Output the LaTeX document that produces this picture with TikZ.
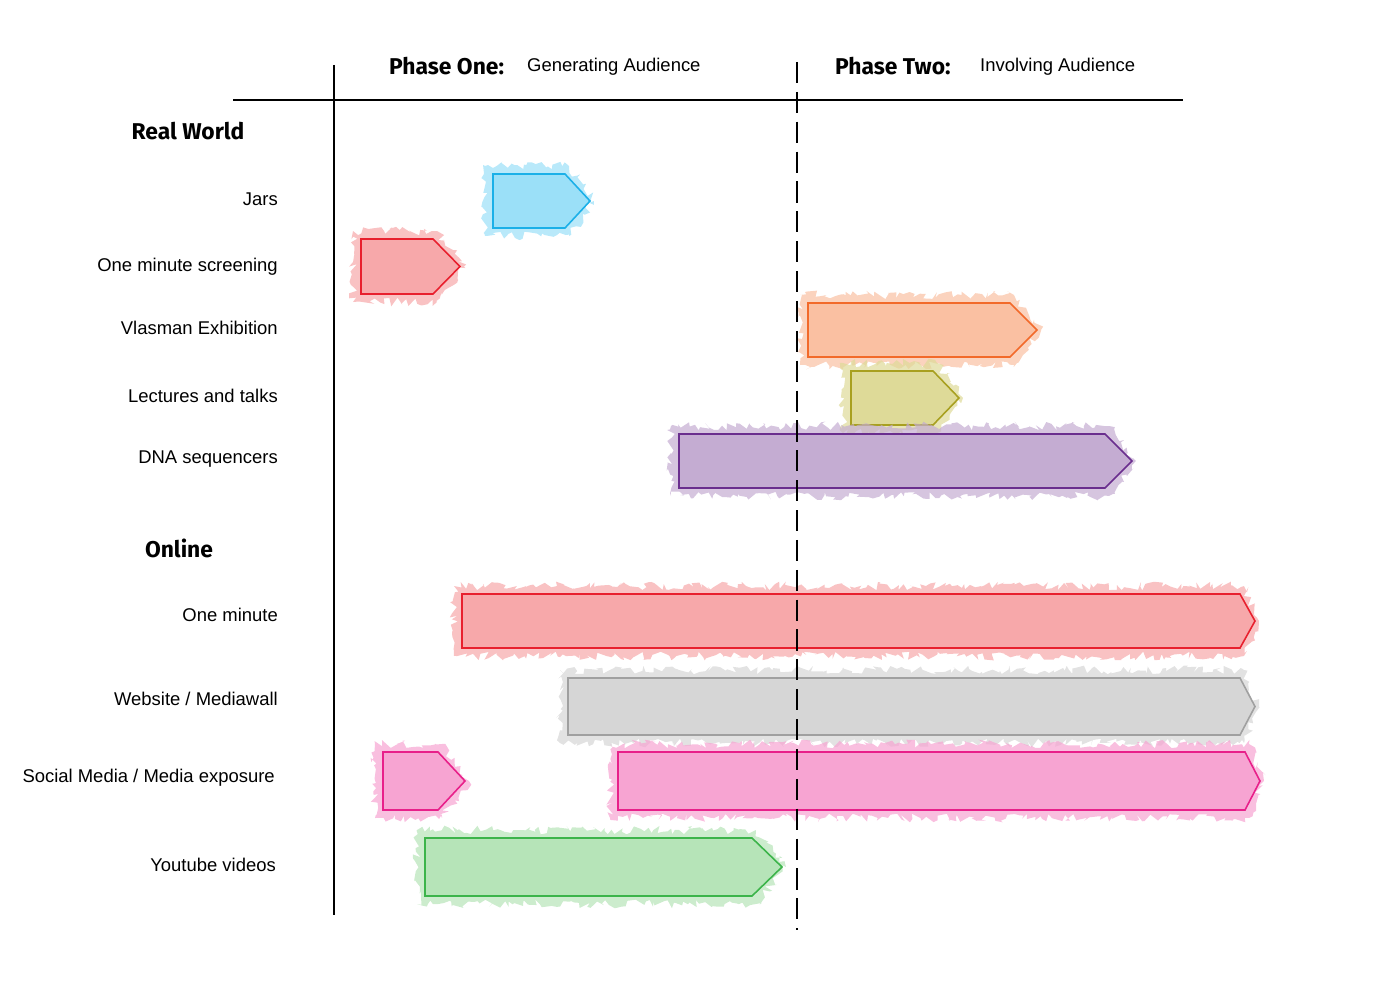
\documentclass[tikz,border=0pt]{standalone}
\usepackage{fontspec}
\setmainfont{Liberation Sans}
\newfontfamily\hdr{Fira Sans}
\usetikzlibrary{decorations.pathmorphing}
\pgfmathsetseed{7}
\definecolor{cblue}{HTML}{9BE0F8}\definecolor{cblueb}{HTML}{1BB0E8}
\definecolor{cred}{HTML}{F7A8AA}\definecolor{credb}{HTML}{E8202E}
\definecolor{corg}{HTML}{FAC0A2}\definecolor{corgb}{HTML}{F26A2A}
\definecolor{coli}{HTML}{DEDA98}\definecolor{colib}{HTML}{A8A020}
\definecolor{cpur}{HTML}{C4ACD2}\definecolor{cpurb}{HTML}{6A2E8E}
\definecolor{cgry}{HTML}{D6D6D6}\definecolor{cgryb}{HTML}{A0A0A0}
\definecolor{cpnk}{HTML}{F7A4D2}\definecolor{cpnkb}{HTML}{E8208A}
\definecolor{cgrn}{HTML}{B6E4B8}\definecolor{cgrnb}{HTML}{3CB44A}
\tikzset{
 lbl/.style={anchor=east,font=\fontsize{10.5}{12}\selectfont},
 hd/.style={font=\hdr\bfseries\fontsize{13}{15}\selectfont},
 fuzz/.style={fill=#1,fill opacity=0.7,draw=none,decorate,decoration={random steps,segment length=2pt,amplitude=2.5pt}},
}
\newcommand{\garrow}[8]{% name, x1, x2, x3, y1, y2, fill, border
 \fill[fuzz=#7] (#2-8,#5-8) -- (#3+4,#5-8) -- (#4+4,#5/2+#6/2) -- (#3+4,#6+8) -- (#2-8,#6+8) -- cycle;
 \draw[#8,fill=#7,line width=0.9pt] (#2,#5) -- (#3,#5) -- (#4,#5/2+#6/2) -- (#3,#6) -- (#2,#6) -- cycle;
 \coordinate (#1) at (#2,#5/2+#6/2);
}
\begin{document}
\begin{tikzpicture}[x=0.02cm,y=-0.02cm]
\useasboundingbox (0,0) rectangle (1400,990);
% arrows
\garrow{jars}{493}{565}{590}{174}{228}{cblue}{cblueb}
\garrow{oms}{361}{433}{460}{239}{294}{cred}{credb}
\garrow{vla}{808}{1010}{1037}{303}{357}{corg}{corgb}
\garrow{lec}{851}{933}{959}{371}{425}{coli}{colib}
\garrow{dna}{679}{1105}{1132}{434}{488}{cpur}{cpurb}
\garrow{om}{462}{1240}{1255}{594}{648}{cred}{credb}
\garrow{web}{568}{1240}{1255}{678}{735}{cgry}{cgryb}
\garrow{soc1}{383}{438}{465}{752}{810}{cpnk}{cpnkb}
\garrow{soc2}{618}{1245}{1260}{752}{810}{cpnk}{cpnkb}
\garrow{yt}{425}{752}{782}{838}{896}{cgrn}{cgrnb}
% axes
\coordinate (vt) at (334,65); \coordinate (vb) at (334,915);
\coordinate (hl) at (233,100); \coordinate (hr) at (1183,100);
\coordinate (dt) at (797,62); \coordinate (db) at (797,930);
\draw[line width=1.4pt] (vt) -- (vb);
\draw[line width=1.4pt] (hl) -- (hr);
\draw[line width=1.4pt,dash pattern=on 12pt off 5pt] (dt) -- (db);
% headers
\node[hd] (rw) at (188,131) {Real World};
\node[hd] (on) at (179,548) {Online};
\node[hd,anchor=west] (p1) at (383,66) {Phase One:};
\node[anchor=west,font=\fontsize{10.5}{12}\selectfont] (p1b) at (521,67) {Generating Audience};
\node[hd,anchor=west] (p2) at (829,66) {Phase Two:};
\node[anchor=west,font=\fontsize{10.5}{12}\selectfont] (p2b) at (974,67) {Involving Audience};
% labels
\node[lbl] (l1) at (284,199) {Jars};
\node[lbl] (l2) at (284,267) {One minute screening};
\node[lbl] (l3) at (284,328) {Vlasman Exhibition};
\node[lbl] (l4) at (284,396) {Lectures and talks};
\node[lbl] (l5) at (284,459) {DNA sequencers};
\node[lbl] (l6) at (284,615) {One minute};
\node[lbl] (l7) at (284,699) {Website / Mediawall};
\node[lbl] (l8) at (281,778) {Social Media / Media exposure};
\node[lbl] (l9) at (282,865) {Youtube videos};
\end{tikzpicture}
\end{document}
